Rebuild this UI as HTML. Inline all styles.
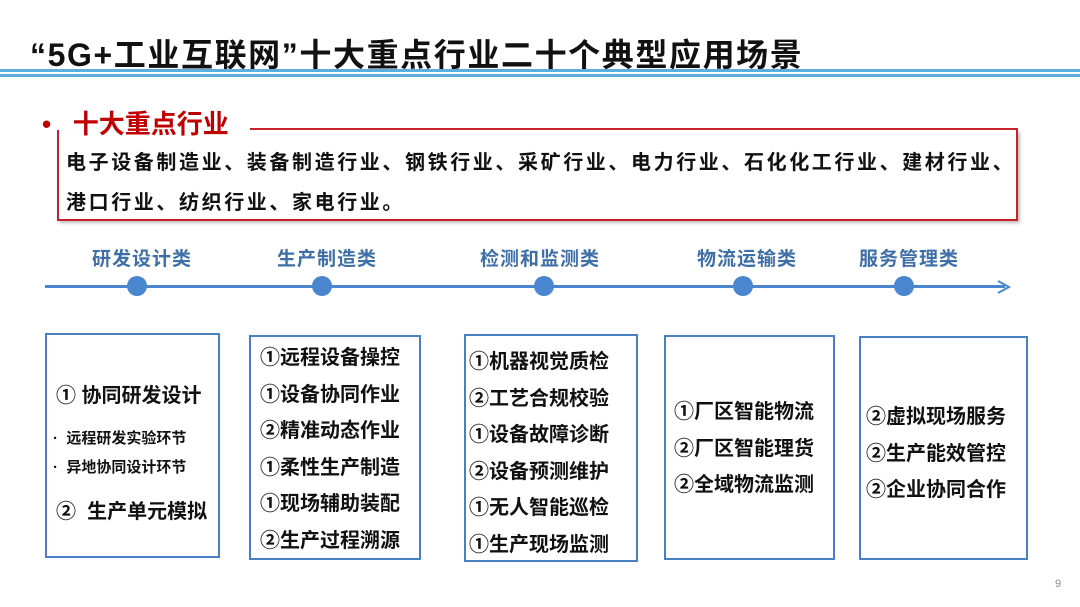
<!DOCTYPE html>
<html><head><meta charset="utf-8"><style>
body{margin:0;width:1080px;height:607px;background:#fff;position:relative;overflow:hidden;font-family:"Liberation Sans","Noto Sans CJK SC",sans-serif;font-weight:bold;color:#111}
.a{position:absolute;white-space:nowrap}
.box{position:absolute;border:2px solid #4a7fc1;box-sizing:border-box}
.lab{position:absolute;color:#3e6fa8;font-size:19px;top:244px;letter-spacing:1px}
.it{font-size:20px;line-height:36.5px}
.dot{position:absolute;width:20px;height:20px;border-radius:50%;background:#4a86d0;top:276px}
</style></head><body>
<div class="a" style="left:30px;top:30px;font-size:32px;letter-spacing:1.6px">“5G+工业互联网”十大重点行业二十个典型应用场景</div>
<div class="a" style="left:0;top:69px;width:1080px;height:3px;background:#5aaee0"></div>
<div class="a" style="left:0;top:74px;width:1080px;height:3px;background:#5aaee0"></div>
<div class="a" style="left:42px;top:104px;font-size:26px;color:#c00000">•&nbsp;&nbsp; 十大重点行业</div>
<div class="a" style="left:250px;top:128px;width:768px;height:2px;background:#c8202a"></div>
<div class="a" style="left:57px;top:130px;width:961px;height:91px;border:2px solid #c8202a;border-top:none;box-sizing:border-box;box-shadow:2px 2px 3px #bbb"></div>
<div class="a" style="left:66px;top:146px;font-size:20px;letter-spacing:2.6px">电子设备制造业、装备制造行业、钢铁行业、采矿行业、电力行业、石化化工行业、建材行业、</div>
<div class="a" style="left:66px;top:186px;font-size:20px;letter-spacing:2.6px">港口行业、纺织行业、家电行业。</div>
<div class="lab" style="left:92px">研发设计类</div>
<div class="lab" style="left:277px">生产制造类</div>
<div class="lab" style="left:480px">检测和监测类</div>
<div class="lab" style="left:697px">物流运输类</div>
<div class="lab" style="left:859px">服务管理类</div>
<div class="a" style="left:45px;top:285px;width:960px;height:3px;background:#4a86d0"></div>
<svg class="a" style="left:996px;top:279px" width="16" height="16"><path d="M2 2 L13 8 L2 14" stroke="#4a86d0" stroke-width="2" fill="none"/></svg>
<div class="dot" style="left:127px"></div><div class="dot" style="left:312px"></div><div class="dot" style="left:534px"></div><div class="dot" style="left:733px"></div><div class="dot" style="left:894px"></div>
<div class="box" style="left:45px;top:333px;width:175px;height:225px"></div>
<div class="a" style="left:56px;top:379px;font-size:20px">① 协同研发设计</div>
<div class="a" style="left:53px;top:427px;font-size:15px">· &nbsp;远程研发实验环节</div>
<div class="a" style="left:53px;top:456px;font-size:15px">· &nbsp;异地协同设计环节</div>
<div class="a" style="left:56px;top:495px;font-size:20px">② &nbsp;生产单元模拟</div>
<div class="box" style="left:249px;top:335px;width:172px;height:225px"></div>
<div class="a it" style="left:260px;top:340px">①远程设备操控<br>①设备协同作业<br>②精准动态作业<br>①柔性生产制造<br>①现场辅助装配<br>②生产过程溯源</div>
<div class="box" style="left:464px;top:334px;width:174px;height:228px"></div>
<div class="a it" style="left:469px;top:344px">①机器视觉质检<br>②工艺合规校验<br>①设备故障诊断<br>②设备预测维护<br>①无人智能巡检<br>①生产现场监测</div>
<div class="box" style="left:664px;top:335px;width:171px;height:225px"></div>
<div class="a it" style="left:674px;top:394px">①厂区智能物流<br>②厂区智能理货<br>②全域物流监测</div>
<div class="box" style="left:859px;top:336px;width:169px;height:224px"></div>
<div class="a it" style="left:866px;top:399px">②虚拟现场服务<br>②生产能效管控<br>②企业协同合作</div>
<div class="a" style="left:1055px;top:578px;font-size:11px;font-weight:normal;color:#888">9</div>
</body></html>
